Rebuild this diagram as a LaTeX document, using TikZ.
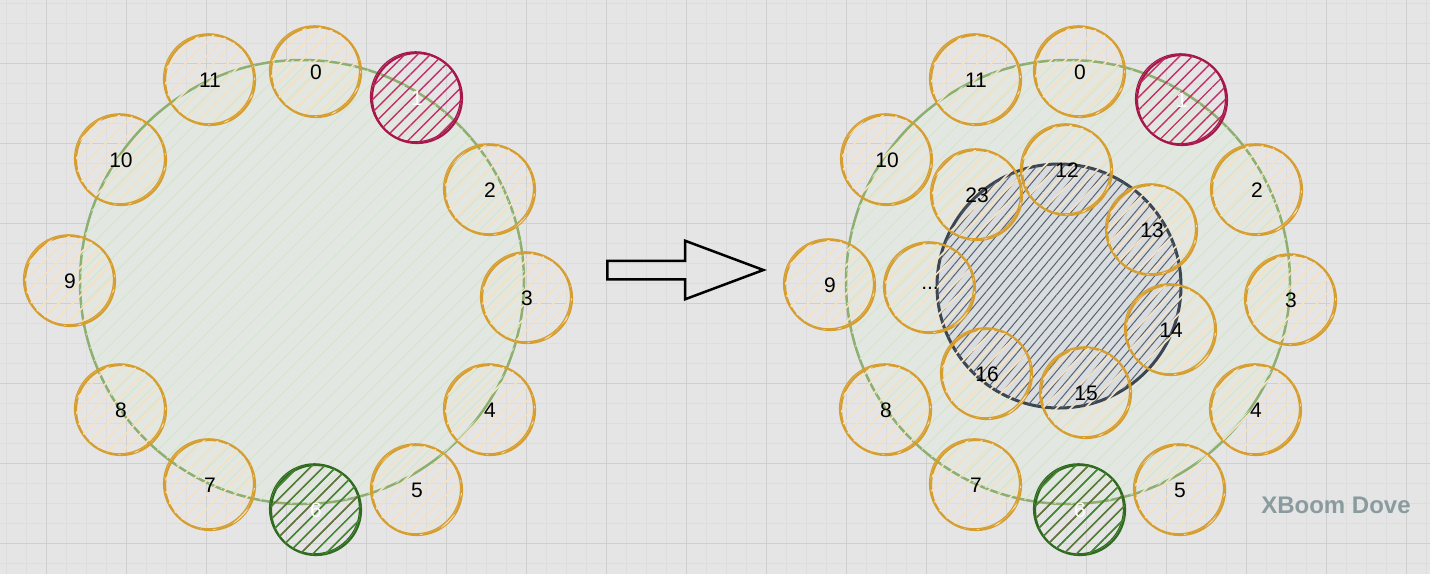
\documentclass[tikz,border=0pt]{standalone}
\usepackage{fontspec}
\setmainfont{Liberation Sans}
\usetikzlibrary{shapes.arrows,patterns.meta}
\definecolor{bgcol}{HTML}{E5E5E5}
\definecolor{minorline}{HTML}{DDDDDD}
\definecolor{majorline}{HTML}{CFCFCF}
\definecolor{ringline}{HTML}{8DB071}
\definecolor{ringfill}{HTML}{E3E7E1}
\definecolor{ringhatch}{HTML}{D6E5CF}
\definecolor{peerline}{HTML}{D69E2E}
\definecolor{peerhatch}{HTML}{F6E1C2}
\definecolor{leaderline}{HTML}{A5174B}
\definecolor{leaderhatch}{HTML}{C42E66}
\definecolor{joinline}{HTML}{2E6B1F}
\definecolor{joinhatch}{HTML}{3E8A2D}
\definecolor{groupline}{HTML}{3C4650}
\definecolor{groupfill}{HTML}{D9DDE0}
\definecolor{grouphatch}{HTML}{56626E}
\definecolor{markcol}{HTML}{8A9BA0}
\tikzset{
  ring/.style={circle, draw=ringline, line width=2.5pt, minimum size=444pt, inner sep=0pt,
    fill=ringfill, postaction={pattern={Lines[angle=45,distance=12pt,line width=1pt]}, pattern color=ringhatch}},
  peer/.style={circle, draw=peerline, line width=2.2pt, minimum size=90pt, inner sep=0pt,
    postaction={pattern={Lines[angle=45,distance=10pt,line width=1.6pt]}, pattern color=peerhatch},
    postaction={draw, line width=1.2pt, transform canvas={xshift=-1.5pt, yshift=1.2pt}},
    font=\fontsize{21}{25}\selectfont},
  leader/.style={circle, draw=leaderline, line width=2.2pt, minimum size=90pt, inner sep=0pt, text=white,
    postaction={pattern={Lines[angle=45,distance=9pt,line width=1.4pt]}, pattern color=leaderhatch},
    postaction={draw, line width=1.2pt, transform canvas={xshift=-1.5pt, yshift=1.2pt}},
    font=\fontsize{21}{25}\selectfont},
  joiner/.style={leader, draw=joinline,
    postaction={pattern={Lines[angle=45,distance=9pt,line width=1.4pt]}, pattern color=joinhatch}},
  group/.style={circle, draw=groupline, line width=3pt, minimum size=244pt, inner sep=0pt,
    fill=groupfill, postaction={pattern={Lines[angle=50,distance=7pt,line width=1pt]}, pattern color=grouphatch}},
}
\begin{document}
\begin{tikzpicture}[x=1pt, y=-1pt]
    \fill[bgcol] (0,0) rectangle (1430,574);
    \useasboundingbox (0,0) rectangle (1430,574);
    \foreach \x in {6,26,...,1430} \draw[minorline, line width=0.8pt] (\x,0) -- (\x,574);
    \foreach \y in {3,23,...,574} \draw[minorline, line width=0.8pt] (0,\y) -- (1430,\y);
    \foreach \x in {46,126,...,1430} \draw[majorline, line width=1pt] (\x,0) -- (\x,574);
    \foreach \y in {63,143,...,574} \draw[majorline, line width=1pt] (0,\y) -- (1430,\y);

    \node[ring] (lring) at (302,282) {};
    \node[peer] (l0) at (316,72) {0};
    \node[leader] (l1) at (417,98) {1};
    \node[peer] (l2) at (490,190) {2};
    \node[peer] (l3) at (527,298) {3};
    \node[peer] (l4) at (490,410) {4};
    \node[peer] (l5) at (417,490) {5};
    \node[joiner] (l6) at (316,510) {6};
    \node[peer] (l7) at (210,485) {7};
    \node[peer] (l8) at (121,410) {8};
    \node[peer] (l9) at (70,281) {9};
    \node[peer] (l10) at (121,160) {10};
    \node[peer] (l11) at (210,80) {11};

    \node[single arrow, draw=black, line width=2.5pt, inner sep=0pt,
      minimum height=156pt, single arrow head extend=20pt, single arrow tip angle=41]
      (step) at (673,270) {\rule{0pt}{16pt}};

    \node[ring] (rring) at (1068,282) {};
    \node[group] (rgroup) at (1059,286) {};
    \node[peer] (r0) at (1080,72) {0};
    \node[leader] (r1) at (1182,100) {1};
    \node[peer] (r2) at (1257,190) {2};
    \node[peer] (r3) at (1291,300) {3};
    \node[peer] (r4) at (1256,410) {4};
    \node[peer] (r5) at (1180,490) {5};
    \node[joiner] (r6) at (1080,510) {6};
    \node[peer] (r7) at (976,485) {7};
    \node[peer] (r8) at (886,410) {8};
    \node[peer] (r9) at (830,285) {9};
    \node[peer] (r10) at (887,160) {10};
    \node[peer] (r11) at (976,80) {11};
    \node[peer] (r12) at (1067,170) {12};
    \node[peer] (r13) at (1152,230) {13};
    \node[peer] (r14) at (1171,330) {14};
    \node[peer] (r15) at (1086,393) {15};
    \node[peer] (r16) at (987,374) {16};
    \node[peer] (rdots) at (930,288) {...};
    \node[peer] (r23) at (977,195) {23};

    \node[text=markcol, font=\fontsize{24}{28}\selectfont\bfseries] (mark) at (1336,505) {XBoom Dove};
\end{tikzpicture}
\end{document}
